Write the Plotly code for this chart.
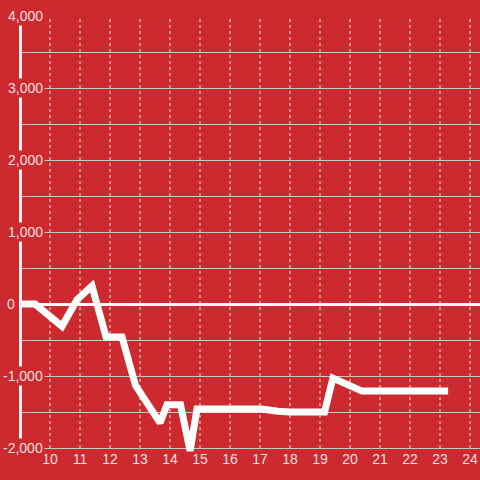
import plotly.graph_objects as go

# ---- data ----
x_vals = [9.0, 9.5, 10.4, 10.9, 11.4, 11.87, 12.4, 12.6, 12.85, 13.67, 13.9, 14.35,
          14.67, 14.9, 17.05, 17.6, 18.0, 19.15, 19.43, 20.4, 23.27]
y_vals = [0, 0, -310, 60, 250, -460, -460, -760, -1130, -1650, -1400, -1400,
          -2040, -1460, -1460, -1490, -1500, -1500, -1030, -1210, -1210]

x_ticks = list(range(10, 25))
y_ticks = [-2000, -1000, 0, 1000, 2000, 3000, 4000]
y_labels = ["-2,000", "-1,000", "0", "1,000", "2,000", "3,000", "4,000"]

BG = "#cc2a2f"
TXT = "rgba(255,255,255,0.86)"
GRID = "#c9c6c6"
VGRID = "#e6e2e2"

fig = go.Figure()
fig.add_trace(go.Scatter(
    x=x_vals, y=y_vals, mode="lines",
    line=dict(color="#ffffff", width=7),
    hoverinfo="skip", showlegend=False,
))

# dotted vertical grid lines, spanning the labelled y extent
shapes = []
for t in x_ticks:
    shapes.append(dict(type="line", xref="x", yref="y", x0=t, x1=t,
                       y0=min(y_ticks), y1=max(y_ticks),
                       line=dict(color=VGRID, width=1, dash="dot"), layer="below"))

# y tick labels with background that hides grid/axis lines behind them
annotations = []
for v, lab in zip(y_ticks, y_labels):
    shift = -5 if lab == "0" else 23
    annotations.append(dict(
        xref="paper", yref="y", x=0, y=v, text=lab, showarrow=False,
        xanchor="right", yanchor="middle", xshift=shift,
        bgcolor=BG, borderpad=1,
        font=dict(family="Liberation Sans, Arial, sans-serif", size=14, color=TXT),
    ))

fig.update_layout(
    width=480, height=480,
    margin=dict(l=22, r=0, t=16, b=26),
    paper_bgcolor=BG, plot_bgcolor=BG,
    font=dict(family="Liberation Sans, Arial, sans-serif", size=14, color=TXT),
    shapes=shapes, annotations=annotations,
    xaxis=dict(
        range=[9.0667, 24.3333], tickvals=x_ticks, ticktext=[str(t) for t in x_ticks],
        showgrid=False, zeroline=False, showline=False, ticks="",
        ticklabelstandoff=-5, fixedrange=True,
    ),
    yaxis=dict(
        range=[-2083.3, 4000], tickvals=[], showticklabels=False,
        showgrid=True, gridcolor=GRID, gridwidth=1,
        minor=dict(dtick=500, tick0=0, showgrid=True, gridcolor=GRID, gridwidth=1),
        zeroline=True, zerolinecolor="#ffffff", zerolinewidth=3,
        showline=True, linecolor="#f2f2f2", linewidth=3, ticks="",
        fixedrange=True,
    ),
)

fig.write_html(
    "out.html",
    config={"displayModeBar": False},
    post_script="document.body.style.margin='0px';document.body.style.overflow='hidden';",
)
